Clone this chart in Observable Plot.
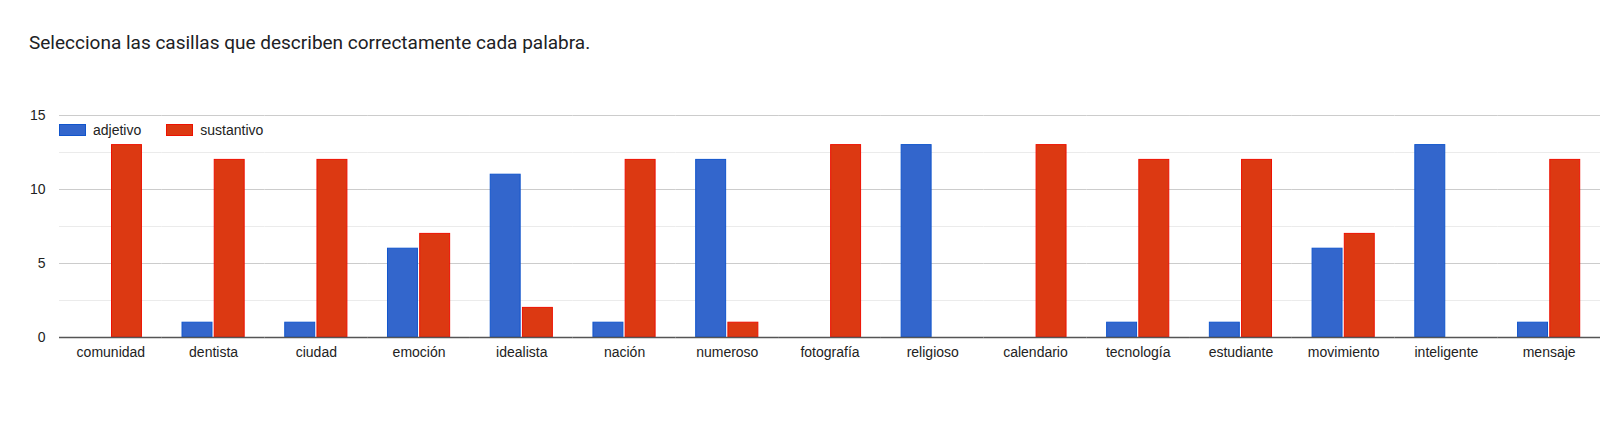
<!DOCTYPE html>
<html>
<head>
<meta charset="utf-8">
<script src="https://cdn.jsdelivr.net/npm/d3@7"></script>
<script src="https://cdn.jsdelivr.net/npm/@observablehq/plot@0.6"></script>
<style>
  html, body { margin: 0; padding: 0; background: #fff; }
  #wrap { position: relative; width: 1600px; height: 424px; }
  #title { position: absolute; left: 29px; top: 31px; font-family: Roboto, "Liberation Sans", sans-serif; font-size: 19px; color: #202124; white-space: nowrap; }
  #chart { position: absolute; left: 0; top: 80px; }
  #legend { position: absolute; left: 59px; top: 122px; font-family: "Liberation Sans", Arial, sans-serif; font-size: 14px; color: #222; display: flex; align-items: center; }
  .item { display: flex; align-items: center; margin-right: 25px; }
  .sw { width: 27px; height: 12px; margin-right: 7px; box-sizing: border-box; }
</style>
</head>
<body>
<div id="wrap">
  <div id="title">Selecciona las casillas que describen correctamente cada palabra.</div>
  <div id="chart"></div>
  <div id="legend"></div>
</div>
<script>
const categories = ["comunidad","dentista","ciudad","emoción","idealista","nación","numeroso","fotografía","religioso","calendario","tecnología","estudiante","movimiento","inteligente","mensaje"];
const series = ["adjetivo","sustantivo"];
const adjetivo =   [0, 1, 1, 6, 11, 1, 12, 0, 13, 0, 1, 1, 6, 13, 1];
const sustantivo = [13, 12, 12, 7, 2, 12, 1, 13, 0, 13, 12, 12, 7, 0, 12];
const colors = ["#3366cc", "#dc3912"];
const strokes = ["#1155cc", "#ee1100"];
const yTicks = [0, 5, 10, 15];
const yMinor = [2.5, 7.5, 12.5];

const data = [];
categories.forEach((c, i) => {
  data.push({cat: c, series: "adjetivo", value: adjetivo[i]});
  data.push({cat: c, series: "sustantivo", value: sustantivo[i]});
});
const bars = data.filter(d => d.value > 0);

const chart = Plot.plot({
  width: 1600,
  height: 297,
  marginLeft: 59,
  marginRight: 0,
  marginTop: 35,
  marginBottom: 40,
  style: {fontFamily: "'Liberation Sans', Arial, sans-serif", fontSize: "14px", color: "#222", background: "#fff"},
  fx: {domain: categories, padding: 0, round: false, axis: "bottom", tickSize: 0, tickPadding: 10, label: null},
  x: {domain: series, axis: null, round: false, paddingInner: 0.07, paddingOuter: 0.63},
  y: {domain: [0, 15], axis: "left", ticks: yTicks, tickSize: 0, tickPadding: 14, label: null},
  color: {domain: series, range: colors},
  marks: [
    Plot.ruleY(yMinor, {stroke: "#ebebeb", strokeWidth: 1}),
    Plot.ruleY(yTicks.filter(t => t > 0), {stroke: "#cccccc", strokeWidth: 1}),
    Plot.barY(bars, {fx: "cat", x: "series", y: "value", fill: "series", inset: 0,
      stroke: d => strokes[series.indexOf(d.series)], strokeWidth: 1}),
    Plot.ruleY([0], {stroke: "#555", strokeWidth: 1.5})
  ]
});
document.getElementById("chart").appendChild(chart);

const legend = document.getElementById("legend");
series.forEach((s, i) => {
  const it = document.createElement("div");
  it.className = "item";
  const sw = document.createElement("div");
  sw.className = "sw";
  sw.style.background = colors[i];
  sw.style.border = "1px solid " + strokes[i];
  const tx = document.createElement("span");
  tx.textContent = s;
  it.appendChild(sw); it.appendChild(tx);
  legend.appendChild(it);
});
</script>
</body>
</html>
